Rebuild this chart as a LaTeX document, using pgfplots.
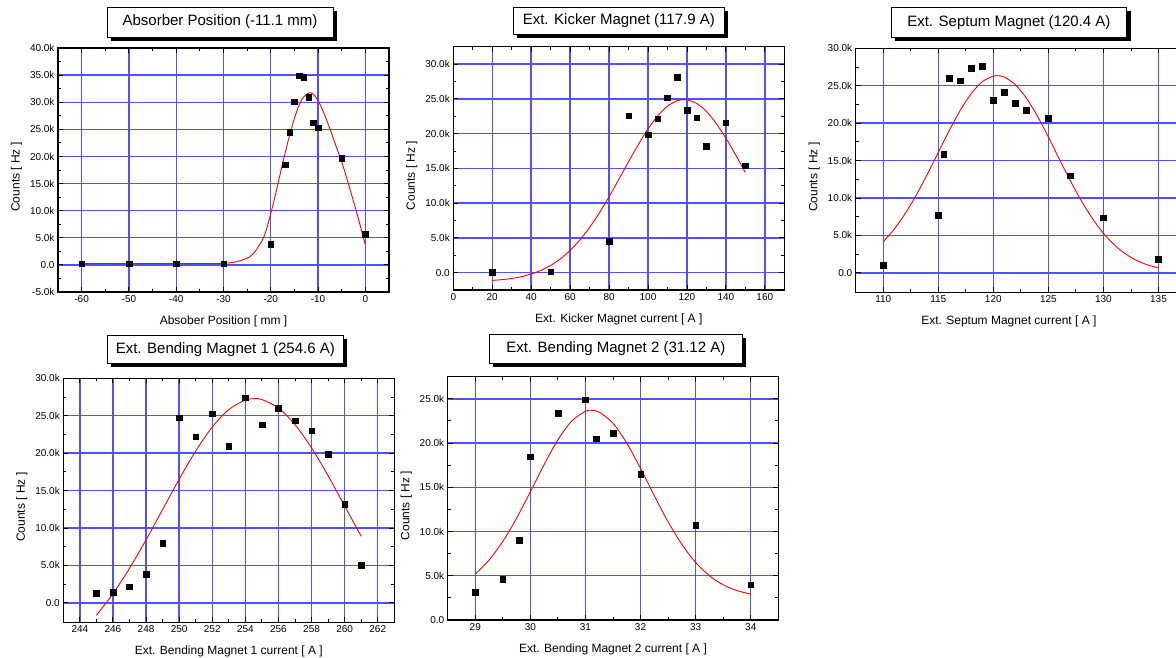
\documentclass[border=0pt]{standalone}
\usepackage{fontspec}
\setmainfont{Liberation Sans}
\usepackage{pgfplots}
\pgfplotsset{compat=1.18}
\usetikzlibrary{shadows}
\definecolor{gridblue}{RGB}{80,80,255}
\pgfplotsset{
  panel/.style={
    scale only axis, anchor=south west,
    scaled x ticks=false, scaled y ticks=false,
    grid=major,
    major grid style={line width=1.4pt, gridblue},
    axis line style={line width=1.1pt, black},
    tick style={black, line width=0.9pt},
    major tick length=5pt, minor tick length=3pt,
    minor x tick num=1, minor y tick num=1,
    tick label style={font=\fontsize{10}{12}\selectfont},
    label style={font=\fontsize{12}{14}\selectfont},
    ylabel={Counts [ Hz ]},
    x label style={at={([yshift=-29.5pt]axis description cs:0.5,0)}, anchor=center},
    y label style={at={([xshift=-41.5pt,yshift=-7pt]axis description cs:0,0.5)}, anchor=center},
    title style={font=\fontsize{15}{18}\selectfont, draw=black, line width=0.8pt, fill=white,
      drop shadow={shadow xshift=4pt, shadow yshift=-4pt, opacity=1, fill=black},
      inner sep=0pt, minimum height=29pt, anchor=center},
  },
  pts/.style={only marks, mark=square*, mark size=2.8pt, black},
  fit/.style={red, line width=0.9pt, no marks},
}
\begin{document}
\begin{tikzpicture}
\path[use as bounding box] (0,0) rectangle (1176pt,657pt);

% Panel 1
\begin{axis}[panel, at={(58pt,365pt)}, width=331pt, height=244pt,
  xmin=-65, xmax=5, ymin=-5000, ymax=40000,
  xtick={-60,-50,-40,-30,-20,-10,0},
  xticklabels={-60,-50,-40,-30,-20,-10,0},
  ytick={-5000,0,5000,10000,15000,20000,25000,30000,35000,40000},
  yticklabels={-5.0k,0.0,5.0k,10.0k,15.0k,20.0k,25.0k,30.0k,35.0k,40.0k},
  xlabel={Absober Position [ mm ]},
  title={Absorber Position (-11.1 mm)},
  title style={minimum width=226pt, minimum height=30pt, at={([xshift=-3.5pt,yshift=20pt]axis description cs:0.5,1)}}]
\addplot[pts] coordinates {(-60,250) (-50,200) (-40,250) (-30,250) (-20,3800) (-17,18500) (-16,24500) (-15,30100) (-14,34900) (-13,34600) (-12,30900) (-11,26200) (-10,25300) (-5,19700) (0,5700)};
\addplot[fit, smooth] coordinates {(-60,250) (-50,250) (-40,250) (-32,260) (-30,300) (-28,450) (-26,900) (-24,1800) (-22,4200) (-21,6300) (-20,9500) (-19,13000) (-18,16800) (-17,20500) (-16,24000) (-15,27000) (-14,29500) (-13,31000) (-12,31700) (-11.5,31750) (-11,31500) (-10,30300) (-9,28500) (-8,26300) (-7,23900) (-6,21400) (-5,19000) (-4,16200) (-3,13200) (-2,10200) (-1,7000) (0,3700)};
\end{axis}

% Panel 2
\begin{axis}[panel, at={(453.3pt,367pt)}, width=331pt, height=243.3pt,
  xmin=0, xmax=170, ymin=-2500, ymax=32500,
  xtick={0,20,40,60,80,100,120,140,160},
  xticklabels={0,20,40,60,80,100,120,140,160},
  ytick={0,5000,10000,15000,20000,25000,30000},
  yticklabels={0.0,5.0k,10.0k,15.0k,20.0k,25.0k,30.0k},
  xlabel={Ext. Kicker Magnet current [ A ]},
  title={Ext. Kicker Magnet (117.9 A)},
  title style={minimum width=211pt, minimum height=27pt, at={([yshift=20pt]axis description cs:0.5,1)}}]
\addplot[pts] coordinates {(20,100) (50,150) (80,4520) (90,22600) (100,19860) (105,22170) (110,25150) (115,28080) (120,23370) (125,22260) (130,18170) (140,21590) (150,15390)};
\addplot[fit, smooth] coordinates {(20,-1120) (25,-1011) (30,-838) (35,-580) (40,-206) (45,317) (50,1030) (55,1980) (60,3190) (65,4690) (70,6500) (75,8580) (80,10910) (85,13400) (90,15950) (95,18400) (100,20670) (105,22550) (110,23950) (115,24730) (118.5,24900) (120,24870) (125,24340) (130,23200) (135,21470) (140,19350) (145,16940) (150,14400)};
\end{axis}

% Panel 3
\begin{axis}[panel, at={(855.7pt,364.7pt)}, width=330.3pt, height=244pt,
  xmin=107.5, xmax=137.5, ymin=-2600, ymax=30000,
  xtick={110,115,120,125,130,135},
  xticklabels={110,115,120,125,130,135},
  ytick={0,5000,10000,15000,20000,25000,30000},
  yticklabels={0.0,5.0k,10.0k,15.0k,20.0k,25.0k,30.0k},
  xlabel={Ext. Septum Magnet current [ A ]},
  x label style={at={([xshift=-12pt,yshift=-29.5pt]axis description cs:0.5,0)}},
  title={Ext. Septum Magnet (120.4 A)},
  title style={minimum width=235.7pt, minimum height=30pt, at={([xshift=-12pt,yshift=20pt]axis description cs:0.5,1)}}]
\addplot[pts] coordinates {(110,1000) (115,7670) (115.5,15870) (116,26040) (117,25680) (118,27330) (119,27640) (120,23050) (121,24160) (122,22650) (123,21710) (125,20690) (127,12970) (130,7360) (135,1830)};
\addplot[fit, smooth] coordinates {(110,4156) (111,5837) (112,7921) (113,10382) (114,13149) (115,16087) (116,19014) (117,21715) (118,23958) (119,25536) (120,26294) (120.35,26350) (121,26158) (122,25141) (123,23346) (124,20943) (125,18150) (126,15196) (127,12292) (128,9607) (129,7254) (130,5291) (131,3726) (132,2538) (133,1670) (134,1062) (135,652)};
\end{axis}

% Panel 4
\begin{axis}[panel, at={(63.3pt,34.7pt)}, width=331pt, height=244pt,
  xmin=243, xmax=263, ymin=-2600, ymax=30000,
  xtick={244,246,248,250,252,254,256,258,260,262},
  xticklabels={244,246,248,250,252,254,256,258,260,262},
  ytick={0,5000,10000,15000,20000,25000,30000},
  yticklabels={0.0,5.0k,10.0k,15.0k,20.0k,25.0k,30.0k},
  xlabel={Ext. Bending Magnet 1 current [ A ]},
  title={Ext. Bending Magnet 1 (254.6 A)},
  title style={minimum width=236pt, minimum height=28pt, at={([xshift=-3.5pt,yshift=22.8pt]axis description cs:0.5,1)}}]
\addplot[pts] coordinates {(245,1290) (246,1430) (247,2140) (248,3830) (249,7940) (250,24740) (251,22200) (252,25280) (253,20950) (254,27420) (255,23810) (256,26040) (257,24340) (258,23000) (259,19880) (260,13150) (261,5040)};
\addplot[fit, smooth] coordinates {(245,-1667) (246,1218) (247,4606) (248,8413) (249,12457) (250,16513) (251,20286) (252,23481) (253,25822) (254,27090) (254.56,27280) (255,27162) (256,26035) (257,23813) (258,20708) (259,16987) (260,12950) (261,8890)};
\end{axis}

% Panel 5
\begin{axis}[panel, at={(447.7pt,37pt)}, width=330.6pt, height=243.3pt,
  xmin=28.5, xmax=34.5, ymin=0, ymax=27500,
  xtick={29,30,31,32,33,34},
  xticklabels={29,30,31,32,33,34},
  ytick={0,5000,10000,15000,20000,25000},
  yticklabels={0.0,5.0k,10.0k,15.0k,20.0k,25.0k},
  xlabel={Ext. Bending Magnet 2 current [ A ]},
  title={Ext. Bending Magnet 2 (31.12 A)},
  title style={minimum width=253pt, minimum height=29.3pt, at={([xshift=2.8pt,yshift=22pt]axis description cs:0.5,1)}}]
\addplot[pts] coordinates {(29,3140) (29.5,4580) (29.8,9000) (30,18460) (30.5,23370) (31,24920) (31.2,20500) (31.5,21100) (32,16450) (33,10740) (34,3970)};
\addplot[fit, smooth] coordinates {(29,5189) (29.25,6764) (29.5,8879) (29.75,11501) (30,14489) (30.25,17567) (30.5,20362) (30.75,22481) (31,23587) (31.107,23700) (31.25,23499) (31.5,22231) (31.75,19992) (32,17130) (32.25,14046) (32.5,11098) (32.75,8542) (33,6503) (33.25,5004) (33.5,3978) (33.75,3323) (34,2932)};
\end{axis}
\end{tikzpicture}
\end{document}
